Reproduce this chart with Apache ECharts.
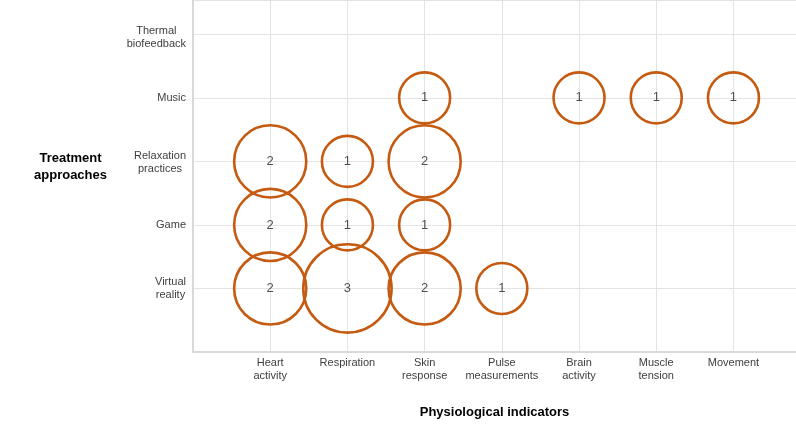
<!DOCTYPE html>
<html>
<head>
<meta charset="utf-8">
<script src="https://cdn.jsdelivr.net/npm/echarts@6/dist/echarts.min.js"></script>
<style>html,body{margin:0;padding:0;background:#fff}#c{width:796px;height:425px}</style>
</head>
<body>
<div id="c"></div>
<script>
const indicators = ["Heart\nactivity", "Respiration", "Skin\nresponse", "Pulse\nmeasurements", "Brain\nactivity", "Muscle\ntension", "Movement"];
const approaches = ["Virtual\nreality", "Game", "Relaxation\npractices", "Music", "Thermal\nbiofeedback"];
const xTitle = "Physiological indicators";
const yTitle = "Treatment\napproaches";
// [indicator index (1-based), approach index (1-based), count]
const virtualReality = [[1, 1, 2], [2, 1, 3], [3, 1, 2], [4, 1, 1]];
const game = [[1, 2, 2], [2, 2, 1], [3, 2, 1]];
const relaxation = [[1, 3, 2], [2, 3, 1], [3, 3, 2]];
const music = [[3, 4, 1], [5, 4, 1], [6, 4, 1], [7, 4, 1]];
const thermal = [];

const data = [].concat(virtualReality, game, relaxation, music, thermal);

function centered(s, style) {
  return s.split("\n").map(l => "{" + (style || "c") + "|" + l + "}").join("\n");
}

const chart = echarts.init(document.getElementById("c"), null, {renderer: "canvas"});
chart.setOption({
  animation: false,
  textStyle: {fontFamily: "Liberation Sans, Arial, sans-serif"},
  grid: {left: 193, right: 0, top: 0, bottom: 73, containLabel: false},
  xAxis: {
    type: "value", min: 0, max: 7.81, interval: 1,
    axisLine: {show: true, lineStyle: {color: "#d9d9d9", width: 2}},
    axisTick: {show: false},
    splitLine: {show: true, lineStyle: {color: "#e3e3e3", width: 1}},
    axisLabel: {
      margin: 4, color: "#404040", fontSize: 11, lineHeight: 13, showMaxLabel: false,
      formatter: v => (Number.isInteger(v) && v >= 1 && v <= indicators.length) ? centered(indicators[v - 1]) : "",
      rich: {c: {align: "center", fontSize: 11, color: "#404040", lineHeight: 13}}
    },
    name: xTitle, nameLocation: "middle", nameGap: 54,
    nameTextStyle: {fontSize: 13, fontWeight: "bold", color: "#000"}
  },
  yAxis: {
    type: "value", min: 0, max: 5.54, interval: 1,
    axisLine: {show: true, lineStyle: {color: "#d9d9d9", width: 2}},
    axisTick: {show: false},
    splitLine: {show: true, lineStyle: {color: "#e3e3e3", width: 1}},
    axisLabel: {
      margin: 7, color: "#404040", fontSize: 11, lineHeight: 13, showMaxLabel: false,
      formatter: v => (Number.isInteger(v) && v >= 1 && v <= approaches.length)
        ? centered(approaches[v - 1], v === 5 ? "t" : (v === 3 ? "r" : "c")) : "",
      rich: {
        c: {align: "center", fontSize: 11, color: "#404040", lineHeight: 13},
        r: {align: "center", fontSize: 11, color: "#404040", lineHeight: 13, padding: [3, 0, 0, 0]},
        t: {align: "center", fontSize: 11, color: "#404040", lineHeight: 13, padding: [6, 0, 0, 0]}
      }
    },
    name: centered(yTitle), nameLocation: "middle", nameGap: 86, nameRotate: 0,
    nameTextStyle: {
      fontSize: 13, fontWeight: "bold", color: "#000", lineHeight: 17, padding: [0, 0, 18, 0],
      rich: {c: {align: "center", fontSize: 13, fontWeight: "bold", color: "#000", lineHeight: 17}}
    }
  },
  series: [{
    type: "scatter",
    data: data,
    symbol: "circle",
    symbolSize: d => 51 * Math.sqrt(d[2]),
    itemStyle: {color: "rgba(0,0,0,0)", borderColor: "#C55A11", borderWidth: 2.6, opacity: 1},
    label: {show: true, position: "inside", formatter: p => p.value[2], color: "#505050", fontSize: 13},
    emphasis: {disabled: true}
  }]
});
</script>
</body>
</html>
